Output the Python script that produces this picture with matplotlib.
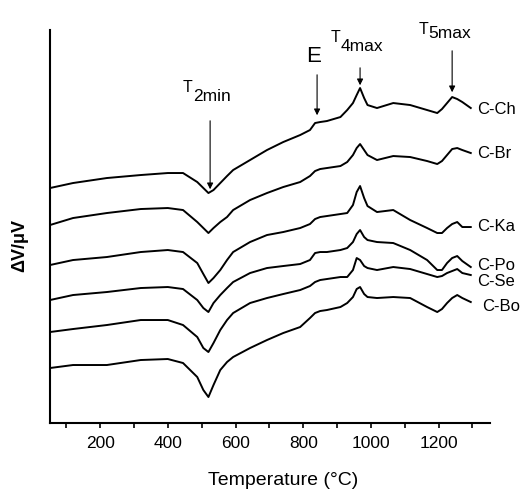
# DTA curves of the six clay samples

import matplotlib.pyplot as plt
from matplotlib.ticker import MultipleLocator

plt.rcParams['font.family'] = ['Liberation Sans', 'DejaVu Sans']

# temperature grid (°C)
temp = [52, 120, 220, 320, 400, 445, 487, 505, 520, 535, 555, 575, 593, 643, 693,
        741, 791, 820, 835, 850, 870, 910, 930, 947, 958, 968, 980, 990, 1018, 1066,
        1116, 1166, 1196, 1210, 1225, 1240, 1255, 1270, 1295]

# signal, arbitrary units (curves already stacked)
c_ch = [235, 240, 245, 248, 250, 250, 241, 235, 230, 233, 240, 247, 253, 263, 273,
        281, 288, 293, 300, 301, 302, 306, 313, 320, 328, 335, 325, 318, 315, 320,
        318, 313, 310, 314, 320, 326, 324, 321, 315]
c_br = [198, 205, 210, 214, 215, 213, 201, 195, 190, 195, 201, 206, 213, 223, 230,
        236, 241, 247, 252, 254, 255, 257, 261, 268, 275, 279, 273, 268, 263, 267,
        266, 262, 259, 262, 268, 274, 275, 273, 270]
c_ka = [158, 163, 166, 171, 173, 171, 160, 149, 140, 145, 153, 163, 171, 181, 188,
        191, 195, 199, 204, 206, 207, 209, 210, 218, 231, 237, 225, 217, 211, 213,
        203, 195, 190, 190, 195, 199, 201, 196, 196]
c_po = [123, 128, 131, 135, 136, 134, 123, 115, 111, 120, 128, 135, 141, 150, 155,
        157, 159, 163, 170, 171, 171, 173, 175, 181, 189, 193, 186, 183, 181, 180,
        173, 163, 153, 153, 160, 165, 167, 162, 156]
c_se = [91, 94, 98, 103, 103, 98, 86, 75, 71, 80, 93, 103, 110, 120, 125,
        129, 133, 137, 141, 143, 144, 146, 146, 153, 165, 163, 157, 155, 153, 156,
        154, 149, 146, 147, 150, 152, 154, 150, 148]
c_bo = [55, 58, 58, 63, 64, 60, 46, 33, 26, 38, 53, 61, 66, 75, 83,
        90, 96, 105, 110, 112, 113, 116, 120, 126, 134, 136, 129, 126, 125, 126,
        125, 116, 111, 114, 120, 125, 128, 125, 121]

curves = [c_ch, c_br, c_ka, c_po, c_se, c_bo]
names = ['C-Ch', 'C-Br', 'C-Ka', 'C-Po', 'C-Se', 'C-Bo']
label_y = [314, 270, 197, 158, 142, 117]

fig = plt.figure(figsize=(5.22, 4.90), dpi=100)
ax = fig.add_axes([0.0958, 0.1367, 0.843, 0.802])

for y in curves:
    ax.plot(temp, y, color='black', lw=1.4)

for name, ly in zip(names, label_y):
    x0 = 1328 if name == 'C-Bo' else 1315
    ax.text(x0, ly, name, fontsize=12, va='center', ha='left')

# event markers
arrow = dict(arrowstyle='-|>', color='black', lw=0.8, mutation_scale=9)
ax.annotate('', xy=(525, 231), xytext=(525, 305), arrowprops=arrow)
ax.annotate('', xy=(841, 305), xytext=(841, 351), arrowprops=arrow)
ax.annotate('', xy=(968, 335), xytext=(968, 358), arrowprops=arrow)
ax.annotate('', xy=(1240, 328), xytext=(1240, 375), arrowprops=arrow)

ax.text(443, 331, 'T', fontsize=11.5, va='baseline')
ax.text(475, 322, '2min', fontsize=12.5, va='baseline')
ax.text(808, 361, 'E', fontsize=16, va='baseline')
ax.text(880, 381, 'T', fontsize=11.5, va='baseline')
ax.text(911, 372, '4max', fontsize=12.5, va='baseline')
ax.text(1140, 389, 'T', fontsize=11.5, va='baseline')
ax.text(1171, 385, '5max', fontsize=12.5, va='baseline')

ax.set_xlim(52, 1352)
ax.set_ylim(0, 393)
ax.xaxis.set_major_locator(MultipleLocator(200))
ax.xaxis.set_minor_locator(MultipleLocator(100))
ax.tick_params(axis='x', which='both', direction='out', length=3.5, width=1.2,
               labelsize=12.5, pad=6)
ax.set_yticks([])
ax.spines['top'].set_visible(False)
ax.spines['right'].set_visible(False)
ax.spines['left'].set_linewidth(1.5)
ax.spines['bottom'].set_linewidth(1.5)

fig.text(283 / 522, 1 - 480 / 490, 'Temperature (°C)', fontsize=14,
         ha='center', va='center')
fig.text(20 / 522, 1 - 245 / 490, 'ΔV/μV', fontsize=13, fontweight='bold',
         rotation=90, ha='center', va='center')

fig.savefig('out.png', dpi=100)
